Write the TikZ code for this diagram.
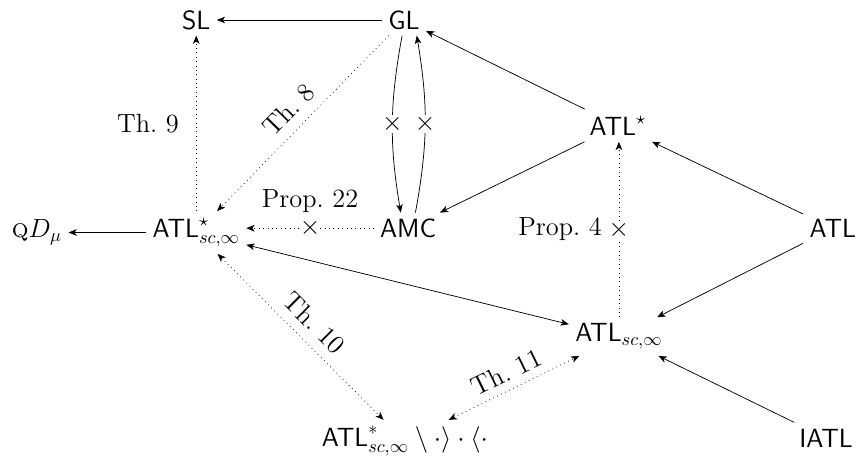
\documentclass[tikz,border=0pt]{standalone}
\usetikzlibrary{arrows.meta}

\begin{document}
\begin{tikzpicture}[font=\Large, >={Stealth[length=4.5pt, width=3.6pt, inset=1.2pt]},
    logic/.style={anchor=base},
    cross/.style={inner sep=0pt, fill=white},
    dots/.style={->, dotted}]
    \useasboundingbox (0,0) rectangle (16.56,8.86);

    \node[logic] (sl)    at (3.77,8.30)  {$\mathsf{SL}$};
    \node[logic] (gl)    at (7.76,8.30)  {$\mathsf{GL}$};
    \node[logic] (atls)  at (11.87,6.26) {$\mathsf{ATL}^\star$};
    \node[logic] (qd)    at (0.71,4.30)  {$\textsc{q}D_\mu$};
    \node[logic] (atlsi) at (3.77,4.30)  {$\mathsf{ATL}^\star_{sc,\infty}$};
    \node[logic] (amc)   at (7.84,4.30)  {$\mathsf{AMC}$};
    \node[logic] (atl)   at (16.0,4.30)  {$\mathsf{ATL}$};
    \node[logic] (atli)  at (11.89,2.29) {$\mathsf{ATL}_{sc,\infty}$};
    \node[logic] (atlr)  at (7.78,0.29)  {$\mathsf{ATL}^*_{sc,\infty} \setminus {\cdot}\rangle\cdot\langle{\cdot}$};
    \node[logic] (iatl)  at (15.87,0.27) {$\mathsf{IATL}$};

    % inclusions
    \draw[->] (gl) -- (sl);
    \draw[->] (atls) -- (gl);
    \draw[->] (atls) -- (amc);
    \draw[->] (atl) -- (atls);
    \draw[->] (atl) -- (atli);
    \draw[->] (iatl) -- (atli);
    \draw[<->] (atli) -- (atlsi);
    \draw[->] (atlsi.west) -- (atlsi.west -| qd.east);

    % GL and AMC are incomparable
    \draw[->] ([xshift=-1pt]gl.south) to[bend right=10] node[cross] {$\times$} ([xshift=-4pt]amc.north);
    \draw[->] ([xshift=4pt]amc.north) to[bend right=10] node[cross] {$\times$} ([xshift=7pt]gl.south);

    % results
    \draw[dots] (atlsi) -- node[left=6pt] {Th.~9} (sl);
    \draw[dots] (gl) -- node[sloped, above=2pt] {Th.~8} (atlsi);
    \draw[dots] (amc.west) -- node[cross, label=above:Prop.~22] {$\times$} (amc.west -| atlsi.east);
    \draw[dots] (atli.north) -- node[cross, label=left:Prop.~4] {$\times$} (atli.north |- atls.south);
    \draw[dots, <->] (atlsi) -- node[sloped, above=2pt] {Th.~10} (atlr);
    \draw[dots, <->] (atlr) -- node[sloped, above=1pt] {Th.~11} (atli);
\end{tikzpicture}
\end{document}
